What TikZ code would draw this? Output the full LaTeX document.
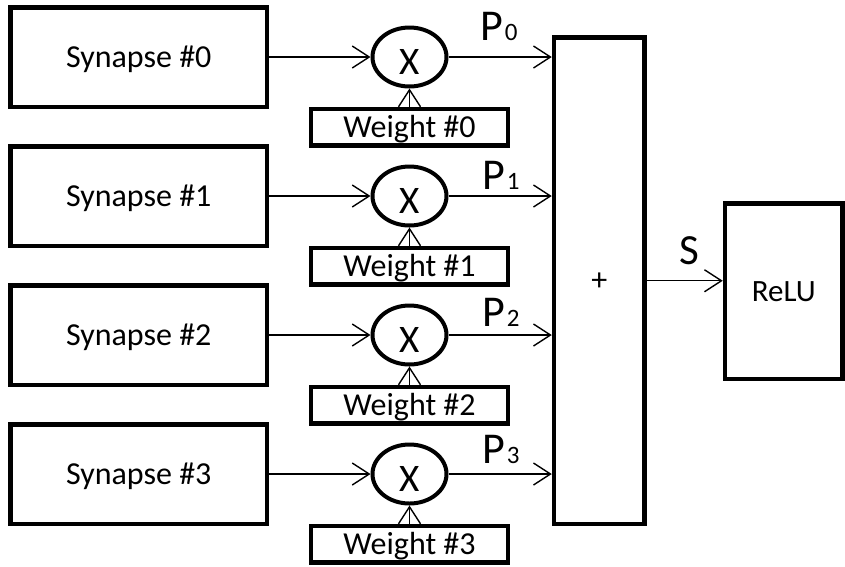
\documentclass[tikz,border=0pt]{standalone}
\usepackage{fontspec}
\setmainfont{Carlito}
\usetikzlibrary{arrows.meta,shapes.geometric}
\newcommand\plabel[1]{{\fontsize{44}{44}\selectfont P}\kern2pt{\fontsize{25}{25}\selectfont #1}}
\begin{document}
\begin{tikzpicture}[x=1pt,y=-1pt,
  box/.style={draw=black, line width=4.5pt, rectangle, inner sep=0pt, text height=20pt, text depth=0pt, font=\fontsize{32}{32}\selectfont},
  mult/.style={draw=black, ellipse, line width=4pt, minimum width=74pt, minimum height=59pt, inner sep=0pt, text height=34pt, text depth=0pt, font=\fontsize{39}{39}\selectfont},
  arr/.style={line width=1.4pt, -{Straight Barb[length=17pt,width=22pt]}},
  lbl/.style={anchor=base west, inner sep=0pt}
]
\useasboundingbox (0,0) rectangle (845,566);
\foreach \i in {0,1,2,3}{
  \pgfmathsetmacro{\ry}{57+139*\i}
  \node[box, minimum width=256.5pt, minimum height=99.5pt] (syn\i) at (138.75,\ry) {Synapse \#\i};
  \node[mult] (x\i) at (409.5,\ry) {X};
  \node[box, minimum width=197pt, minimum height=36.5pt] (w\i) at (409.5,\ry+70) {Weight \#\i};
}
\node[box, minimum width=90.5pt, minimum height=486.5pt] (sum) at (599.25,280.75) {+};
\node[box, font=\fontsize{31}{31}\selectfont, minimum width=117.5pt, minimum height=175.7pt] (relu) at (783.75,291.15) {ReLU};
\foreach \i in {0,1,2,3}{
  \draw[arr] (syn\i.east) -- (x\i.west);
  \draw[arr] (x\i.east) -- (x\i.east -| sum.west);
  \draw[arr] (w\i.north) -- (x\i.south);
}
\draw[arr] (sum.east) -- (sum.east -| relu.west);
\node[lbl] (p0) at (480,40) {\plabel{0}};
\node[lbl] (p1) at (482,189) {\plabel{1}};
\node[lbl] (p2) at (482,326) {\plabel{2}};
\node[lbl] (p3) at (482,463) {\plabel{3}};
\node[lbl, font=\fontsize{43}{43}\selectfont] (s) at (679,264) {S};
\end{tikzpicture}
\end{document}
